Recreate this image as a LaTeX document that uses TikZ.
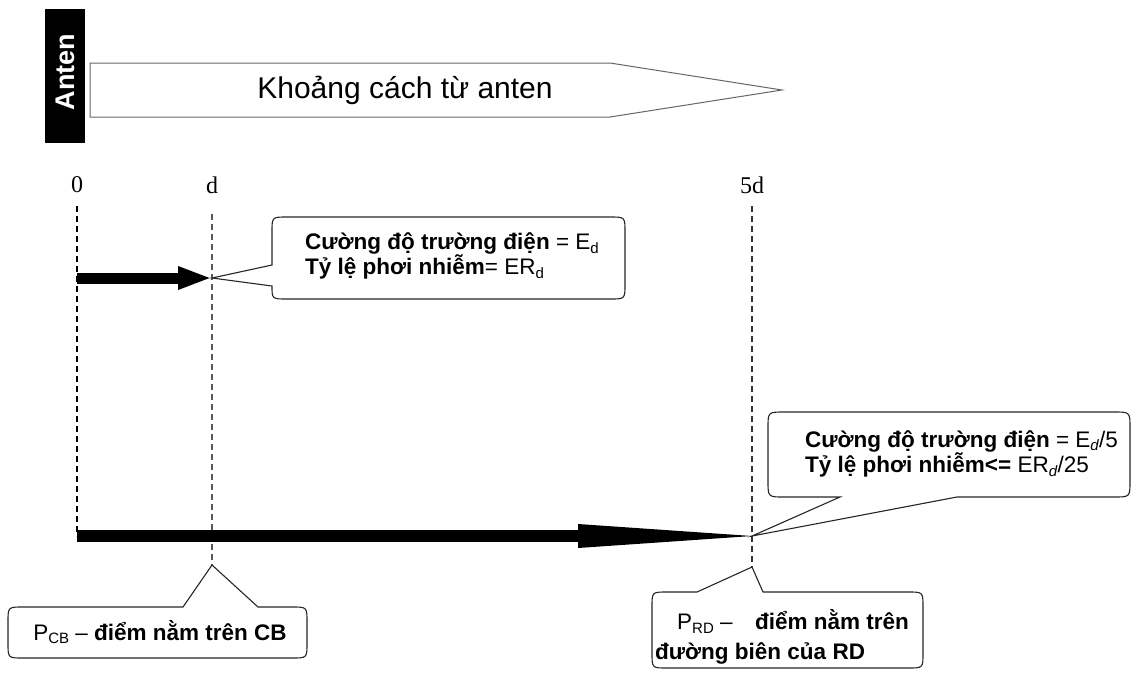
\documentclass[tikz,border=0pt]{standalone}
\usepackage{fontspec}
\setmainfont{Liberation Sans}
\newfontfamily\tmsfont{Liberation Serif}
\usetikzlibrary{arrows.meta}
\newcommand\subd[1]{\raisebox{-0.3ex}{\fontsize{15}{15}\selectfont #1}}
\begin{document}
\begin{tikzpicture}[x=1pt,y=-1pt,
  callout/.style={draw=black!85, line width=1.1pt, fill=white},
  ctext/.style={align=left, anchor=west, inner sep=0pt},
  vline/.style={dash pattern=on 6pt off 4pt, line width=1.2pt},
  axlabel/.style={font=\tmsfont\fontsize{24}{24}\selectfont},
  bigarrow/.style={line width=#1}
]
\useasboundingbox (0,0) rectangle (1137,673);

% Anten box
\node[fill=black, minimum width=40pt, minimum height=134pt, inner sep=0pt] (anten) at (65,76) {};
\node[rotate=90, text=white, inner sep=0pt, font=\bfseries\fontsize{27}{27}\selectfont] (antenlbl) at (65,72) {Anten};

% distance arrow shape
\draw[draw=black!60, line width=1pt, fill=white] (90,63) -- (610,63) -- (782,90) -- (610,117) -- (90,117) -- cycle;
\node[font=\fontsize{30}{30}\selectfont, inner sep=0pt] (dist) at (405,90) {Khoảng cách từ anten};

% axis labels
\node[axlabel] (l0) at (77,185) {0};
\node[axlabel] (ld) at (212,185) {d};
\node[axlabel] (l5d) at (752,185) {5d};

% coordinates
\coordinate (t0) at (77,206);
\coordinate (td) at (212,214);
\coordinate (t5) at (752,206);
\coordinate (o1) at (77,278);
\coordinate (d1) at (212,278);
\coordinate (o2) at (77,536);
\coordinate (h2) at (580,536);
\coordinate (h2a) at (578,524);
\coordinate (h2b) at (578,548);
\coordinate (p5) at (752,536);
\coordinate (dtip) at (212,565);
\coordinate (rtip) at (752,567);

% dashed lines
\draw[vline, draw=black] (t0) -- (o2);
\draw[vline, draw=black!65] (td) -- (dtip);
\draw[vline, draw=black!80] (t5) -- (rtip);

% callout 1
\draw[callout] (272,265) -- (d1) -- (272,286) .. controls (272,299) .. (287,299) -- (610,299) .. controls (625,299) .. (625,284) -- (625,232) .. controls (625,217) .. (610,217) -- (287,217) .. controls (272,217) .. (272,232) -- cycle;
\node[ctext, font=\fontsize{22.5}{25}\selectfont] (c1) at (305,256) {\textbf{Cường độ trường điện} = E\subd{d}\\\textbf{Tỷ lệ phơi nhiễm}= ER\subd{d}};

% callout 2
\draw[callout] (840,497) -- (p5) -- (957,497) -- (1114,497) .. controls (1130,497) .. (1130,481) -- (1130,428) .. controls (1130,412) .. (1114,412) -- (784,412) .. controls (768,412) .. (768,428) -- (768,481) .. controls (768,497) .. (784,497) -- cycle;
\node[ctext, font=\fontsize{22.5}{22.5}\selectfont] (c2) at (805,454) {\textbf{Cường độ trường điện} = E\subd{\textit{d}}/5\\\textbf{Tỷ lệ phơi nhiễm<=} ER\subd{\textit{d}}/25};

% callout 3
\draw[callout] (183,607) -- (dtip) -- (258,607) -- (292,607) .. controls (307,607) .. (307,622) -- (307,643) .. controls (307,658) .. (292,658) -- (23,658) .. controls (8,658) .. (8,643) -- (8,622) .. controls (8,607) .. (23,607) -- cycle;
\node[inner sep=0pt, font=\fontsize{22.5}{25}\selectfont] (c3) at (160,632) {P\subd{CB} – \textbf{điểm nằm trên CB}};

% callout 4
\draw[callout] (697,592) -- (rtip) -- (763,592) -- (908,592) .. controls (923,592) .. (923,607) -- (923,653) .. controls (923,668) .. (908,668) -- (667,668) .. controls (652,668) .. (652,653) -- (652,607) .. controls (652,592) .. (667,592) -- cycle;
\node[ctext, font=\fontsize{22.5}{30}\selectfont] (c4) at (655,637) {\hspace*{22pt}P\subd{RD} –\quad \textbf{điểm nằm trên}\\\textbf{đường biên của RD}};

% thick arrows
\draw[bigarrow=11pt, -{Triangle[length=34pt,width=21pt]}] (o1) -- (d1);
\draw[bigarrow=12pt] (o2) -- (h2);
\fill (h2a) -- (p5) -- (h2b) -- cycle;
\end{tikzpicture}
\end{document}
